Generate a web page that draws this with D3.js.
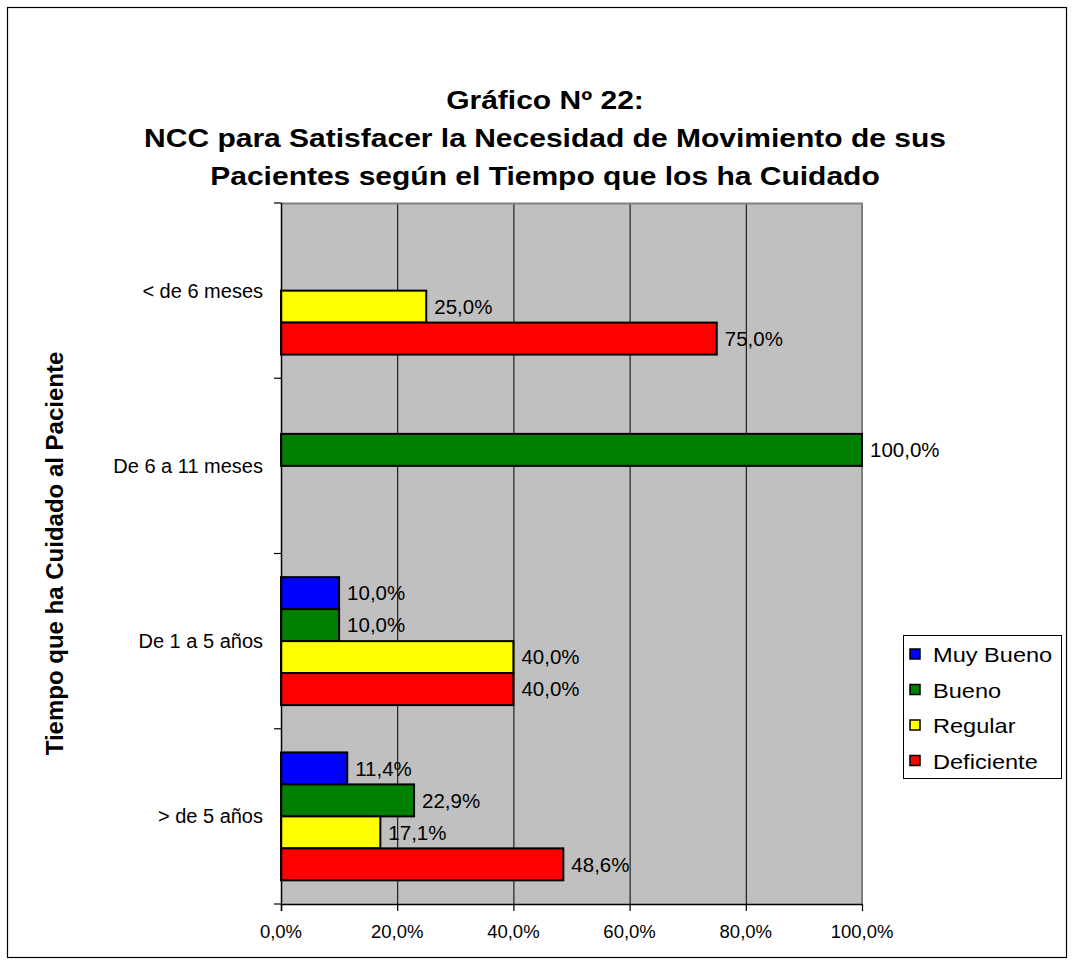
<!DOCTYPE html>
<html>
<head>
<meta charset="utf-8">
<script src="https://cdn.jsdelivr.net/npm/d3@7"></script>
<style>
  html, body { margin: 0; padding: 0; background: #fff; }
  svg text { font-family: "Liberation Sans", Arial, sans-serif; fill: #000; }
</style>
</head>
<body>
<svg id="chart" width="1074" height="965"></svg>
<script>
// Categories (top to bottom) and the four rating series, in percent
const categories = ["< de 6 meses", "De 6 a 11 meses", "De 1 a 5 años", "> de 5 años"];
const seriesNames = ["Muy Bueno", "Bueno", "Regular", "Deficiente"];
const seriesColors = ["#0000FF", "#008000", "#FFFF00", "#FF0000"];
const muyBueno   = [0, 0, 10.0, 11.4];
const bueno      = [0, 100.0, 10.0, 22.9];
const regular    = [25.0, 0, 40.0, 17.1];
const deficiente = [75.0, 0, 40.0, 48.6];
const xTicks = [0, 20, 40, 60, 80, 100];
const titleLines = ["Gráfico Nº 22:",
  "NCC para Satisfacer la Necesidad de Movimiento de sus",
  "Pacientes según el Tiempo que los ha Cuidado"];
const yTitle = "Tiempo que ha Cuidado al Paciente";

const seriesValues = [muyBueno, bueno, regular, deficiente];
const fmt = v => d3.format(".1f")(v).replace(".", ",") + "%";

const svg = d3.select("#chart");

// outer frame
svg.append("rect").attr("x", 7.5).attr("y", 7.5).attr("width", 1059).attr("height", 950)
  .attr("fill", "#fff").attr("stroke", "#000").attr("stroke-width", 1.2);

// plot area
const plot = { left: 281, right: 862, top: 203, bottom: 904 };
const x = d3.scaleLinear().domain([0, 100]).range([plot.left, plot.right]);
const y0 = d3.scaleBand().domain(categories).range([plot.top, plot.bottom]).padding(0);
const bandH = y0.bandwidth();
const gap = bandH * 0.135;
const y1 = d3.scaleBand().domain(seriesNames).range([gap, bandH - gap]).padding(0);

svg.append("rect").attr("x", plot.left).attr("y", plot.top)
  .attr("width", plot.right - plot.left).attr("height", plot.bottom - plot.top)
  .attr("fill", "#C0C0C0");

// vertical gridlines
svg.append("g").selectAll("line").data(xTicks.filter(t => t > 0 && t < 100)).join("line")
  .attr("x1", d => x(d) + 0.5).attr("x2", d => x(d) + 0.5)
  .attr("y1", plot.top).attr("y2", plot.bottom)
  .attr("stroke", "#000").attr("stroke-width", 1);

// gray top/right plot border
svg.append("path")
  .attr("d", `M${plot.left},${plot.top + 0.5}H${plot.right}V${plot.bottom}`)
  .attr("fill", "none").attr("stroke", "#808080").attr("stroke-width", 2);

// bars
const groups = svg.append("g").selectAll("g").data(categories).join("g")
  .attr("transform", c => `translate(0,${y0(c)})`);

groups.each(function(c, ci) {
  const g = d3.select(this);
  const rows = seriesNames.map((s, si) => ({ s, si, v: seriesValues[si][ci] }))
    .filter(d => d.v > 0);
  g.selectAll("rect").data(rows).join("rect")
    .attr("x", x(0))
    .attr("y", d => y1(d.s))
    .attr("width", d => x(d.v) - x(0))
    .attr("height", y1.bandwidth())
    .attr("fill", d => seriesColors[d.si])
    .attr("stroke", "#000").attr("stroke-width", 2);
  g.selectAll("text").data(rows).join("text")
    .attr("x", d => x(d.v) + 8)
    .attr("y", d => y1(d.s) + y1.bandwidth() / 2)
    .attr("dy", "0.35em")
    .attr("font-size", 20.5)
    .text(d => fmt(d.v));
});

// y axis
const yAxis = svg.append("g").attr("transform", `translate(${plot.left},0)`);
yAxis.append("line").attr("x1", 0.5).attr("x2", 0.5).attr("y1", plot.top).attr("y2", plot.bottom + 7)
  .attr("stroke", "#000").attr("stroke-width", 1.5);
const boundaries = categories.map(c => y0(c)).concat([plot.bottom]);
yAxis.selectAll("line.tick").data(boundaries).join("line").attr("class", "tick")
  .attr("x1", -7).attr("x2", 0).attr("y1", d => d).attr("y2", d => d)
  .attr("stroke", "#000").attr("stroke-width", 1.2);
yAxis.selectAll("text").data(categories).join("text")
  .attr("x", -18).attr("y", c => y0(c) + bandH / 2)
  .attr("dy", "0.35em")
  .attr("text-anchor", "end").attr("font-size", 20)
  .text(c => c);

// x axis
const xAxis = svg.append("g").attr("transform", `translate(0,${plot.bottom})`);
xAxis.append("line").attr("x1", plot.left).attr("x2", plot.right)
  .attr("y1", 0.5).attr("y2", 0.5).attr("stroke", "#000").attr("stroke-width", 1.5);
xAxis.selectAll("line.tick").data(xTicks).join("line").attr("class", "tick")
  .attr("x1", d => x(d) + 0.5).attr("x2", d => x(d) + 0.5).attr("y1", 0).attr("y2", 7)
  .attr("stroke", "#000").attr("stroke-width", 1.2);
xAxis.selectAll("text").data(xTicks).join("text")
  .attr("x", d => x(d)).attr("y", 28).attr("dy", "0.35em")
  .attr("text-anchor", "middle").attr("font-size", 18.5)
  .text(d => fmt(d));

// title
svg.append("g").selectAll("text").data(titleLines).join("text")
  .attr("transform", (d, i) => `translate(545,${100 + i * 38}) scale(1.2,1)`)
  .attr("dy", "0.35em")
  .attr("text-anchor", "middle").attr("font-size", 25).attr("font-weight", "bold")
  .text(d => d);

// y axis title
svg.append("text")
  .attr("transform", `translate(55,${(plot.top + plot.bottom) / 2}) rotate(-90)`)
  .attr("text-anchor", "middle").attr("dy", "0.35em")
  .attr("font-size", 24).attr("font-weight", "bold")
  .text(yTitle);

// legend
const legend = svg.append("g");
legend.append("rect").attr("x", 903.5).attr("y", 635.5).attr("width", 158).attr("height", 143)
  .attr("fill", "#fff").attr("stroke", "#000").attr("stroke-width", 1);
const li = legend.selectAll("g").data(seriesNames).join("g")
  .attr("transform", (d, i) => `translate(910,${655 + i * 35.5})`);
li.append("rect").attr("x", 0).attr("y", -6).attr("width", 10).attr("height", 10)
  .attr("fill", (d, i) => seriesColors[i]).attr("stroke", "#000").attr("stroke-width", 1.5);
li.append("text").attr("transform", "translate(23,0) scale(1.15,1)").attr("dy", "0.35em")
  .attr("font-size", 20.5).text(d => d);
</script>
</body>
</html>
